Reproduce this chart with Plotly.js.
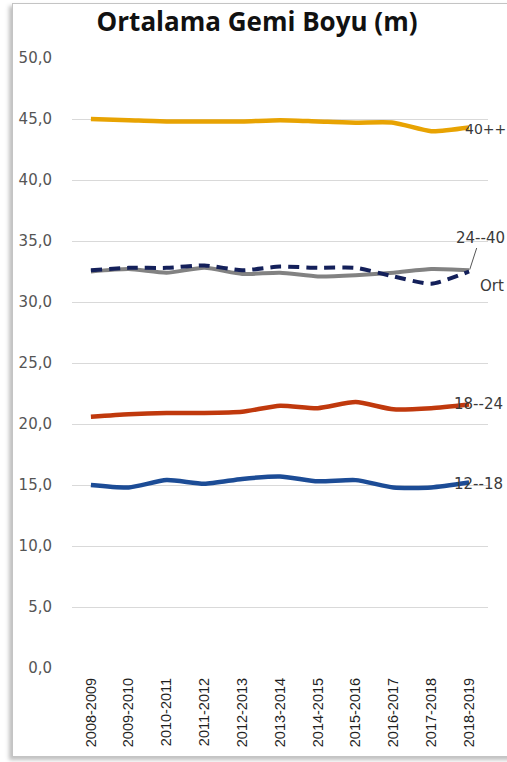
<!DOCTYPE html>
<html>
<head>
<meta charset="utf-8">
<script src="https://cdn.plot.ly/plotly-3.0.1.min.js"></script>
<style>
  html, body { margin: 0; padding: 0; background: #ffffff; overflow: hidden; }
  #frame {
    position: absolute; left: 12px; top: 3px; width: 520px; height: 752px;
    border: 1px solid #c4c4c4;
    box-shadow: -3px 3px 4px rgba(0,0,0,0.25);
    background: #ffffff;
  }
  #chart { position: absolute; left: 0; top: 0; width: 507px; height: 762px; }
</style>
</head>
<body>
<div id="frame"></div>
<div id="chart"></div>
<script>
// Sezonlar (kategori ekseni)
const seasons = ['2008-2009','2009-2010','2010-2011','2011-2012','2012-2013','2013-2014',
                 '2014-2015','2015-2016','2016-2017','2017-2018','2018-2019'];

// Boy gruplarına göre ortalama gemi boyu (m)
const len12to18 = [15.0, 14.8, 15.4, 15.1, 15.5, 15.7, 15.3, 15.4, 14.8, 14.8, 15.2];
const len18to24 = [20.6, 20.8, 20.9, 20.9, 21.0, 21.5, 21.3, 21.8, 21.2, 21.3, 21.6];
const lenAverage = [32.5, 32.7, 32.4, 32.8, 32.3, 32.4, 32.1, 32.2, 32.4, 32.7, 32.6];
const len24to40 = [32.6, 32.8, 32.8, 33.0, 32.6, 32.9, 32.8, 32.8, 32.1, 31.5, 32.5];
const len40plus = [45.0, 44.9, 44.8, 44.8, 44.8, 44.9, 44.8, 44.7, 44.7, 44.0, 44.3];

// Seri adları (çizgi sonundaki etiketler)
const seriesNames = ['12--18', '18--24', 'Ort', '24--40', '40++'];

const yTicks = [0, 5, 10, 15, 20, 25, 30, 35, 40, 45, 50];

function lineTrace(y, color, width, dash, name) {
  return {
    type: 'scatter', mode: 'lines', x: seasons, y: y, name: name,
    line: { color: color, width: width, dash: dash, shape: 'spline', smoothing: 0.6 },
    hoverinfo: 'skip'
  };
}

const traces = [
  lineTrace(len12to18, '#1c4c96', 4.5, 'solid', seriesNames[0]),
  lineTrace(len18to24, '#c0390d', 4.5, 'solid', seriesNames[1]),
  lineTrace(lenAverage, '#828282', 4, 'solid', seriesNames[2]),
  lineTrace(len24to40, '#14205a', 4, '11px,7px', seriesNames[3]),
  lineTrace(len40plus, '#e8a302', 4.5, 'solid', seriesNames[4])
];

const last = seasons.length - 1;
const labelFont = { family: 'DejaVu Sans, sans-serif', size: 15, color: '#3a3a3a' };
const plusFont = { family: 'DejaVu Sans, sans-serif', size: 14, color: '#3a3a3a' };

const annotations = [
  { x: seasons[last], y: len40plus[last], text: seriesNames[4], showarrow: false,
    xanchor: 'left', yanchor: 'middle', xshift: -6, yshift: -1, font: plusFont },
  { x: seasons[last], y: len24to40[last], text: seriesNames[3], showarrow: true,
    arrowhead: 0, arrowwidth: 1, arrowcolor: '#555555', ax: 11, ay: -34,
    xanchor: 'center', yanchor: 'middle', standoff: 2, font: labelFont },
  { x: seasons[last], y: lenAverage[last], text: seriesNames[2], showarrow: false,
    xanchor: 'left', yanchor: 'middle', xshift: 9, yshift: -16, font: labelFont },
  { x: seasons[last], y: len18to24[last], text: seriesNames[1], showarrow: false,
    xanchor: 'left', yanchor: 'middle', xshift: -17, yshift: 0, font: labelFont },
  { x: seasons[last], y: len12to18[last], text: seriesNames[0], showarrow: false,
    xanchor: 'left', yanchor: 'middle', xshift: -17, yshift: -1, font: labelFont }
];

const layout = {
  width: 507, height: 762,
  margin: { l: 72, r: 19, t: 58, b: 94, pad: 0 },
  paper_bgcolor: 'rgba(0,0,0,0)',
  plot_bgcolor: 'rgba(0,0,0,0)',
  separators: ',.',
  showlegend: false,
  title: {
    text: '<b>Ortalama Gemi Boyu (m)</b>',
    x: 0.507, xanchor: 'center', xref: 'container',
    y: 0.971, yanchor: 'middle', yref: 'container',
    font: { family: 'Open Sans, sans-serif', size: 26, color: '#111111' }
  },
  xaxis: {
    type: 'category', range: [-0.5, 10.5],
    showgrid: false, zeroline: false, showline: false, ticks: '',
    tickangle: -90, ticklabelstandoff: 6,
    tickfont: { family: 'Liberation Sans Narrow, Arial Narrow, sans-serif', size: 14.5, color: '#1f1f1f' },
    fixedrange: true
  },
  yaxis: {
    range: [0, 50], tickvals: yTicks, tickformat: '.1f',
    showgrid: true, gridcolor: '#d9d9d9', gridwidth: 1,
    zeroline: false, showline: false, ticks: '', ticklabelstandoff: 19,
    tickfont: { family: 'DejaVu Sans, sans-serif', size: 15, color: '#555555' },
    fixedrange: true
  },
  annotations: annotations
};

Plotly.newPlot('chart', traces, layout, { displayModeBar: false, staticPlot: true });
</script>
</body>
</html>
